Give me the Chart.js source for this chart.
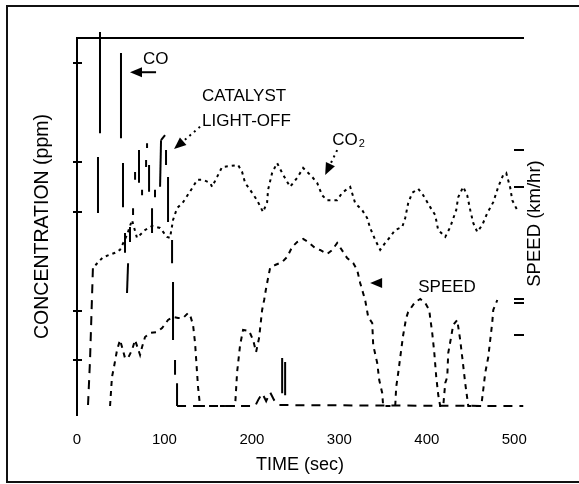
<!DOCTYPE html>
<html>
<head>
<meta charset="utf-8">
<script src="https://cdn.jsdelivr.net/npm/chart.js@4.4.1/dist/chart.umd.min.js"></script>
<style>
  html, body { margin: 0; padding: 0; background: #fff; }
  #wrap { position: relative; width: 579px; height: 484px; overflow: hidden; }
  #frame { position: absolute; left: 6px; top: 5px; width: 620px; height: 474px;
           border: 2px solid #111; border-right: none; pointer-events: none; }
  canvas { position: absolute; left: 0; top: 0; }
</style>
</head>
<body>
<div id="wrap">
  <canvas id="chartEmisiones" width="579" height="484"></canvas>
  <div id="frame"></div>
</div>
<script>
// CO: trazos verticales antes del light-off (null = corte del trazo), luego casi cero
const coTime = [12.6, 14.9, 18.3, null,
  26.3, 26.3, null, 24.0, 24.0, null, 50.3, 50.3, null, 52.6, 52.6, null, 54.9, 54.9, null,
  58.4, 57.2, null, 60.6, 60.6, null, 64.1, 64.1, null, 66.4, 66.4, null, 70.9, 70.9, null,
  74.4, 74.4, null, 80.1, 80.1, null, 79.0, 79.0, null, 82.4, 82.4, null, 85.8, 85.8, null,
  89.2, 89.2, null, 95.0, 96.1, 100.7, null, 101.8, 101.8, null, 104.1, 104.1, null,
  108.7, 108.7, null, 109.8, 109.8, null, 112.1, 112.1, null,
  114.4, 114.4, 203.7, 207.1, 211.7, 216.3, 220.8, 225.4, 230.0, 510.3, null,
  234.6, 234.6, null, 238.0, 238.0];
const coPpm = [0.10, 1.01, 2.92, null,
  7.62, 5.58, null, 5.10, 3.97, null, 7.2, 5.48, null, 4.98, 4.09, null, 3.57, 3.17, null,
  2.96, 2.36, null, 3.69, 3.39, null, 4.07, 3.93, null, 4.8, 4.64, null, 5.24, 4.58, null,
  4.44, 4.33, null, 5.38, 5.28, null, 5.04, 4.9, null, 4.94, 4.4, null, 4.07, 3.57, null,
  4.44, 4.29, null, 4.5, 5.44, 5.54, null, 5.24, 4.94, null, 4.7, 3.79, null,
  3.43, 2.96, null, 2.58, 1.41, null, 1.01, 0.71, null,
  0.54, 0.08, 0.08, 0.2, 0.34, 0.18, 0.36, 0.2, 0.1, 0.08, null,
  1.05, 0.34, null, 0.97, 0.3];

// CO2
const co2Time = [21, 29.7, 43.5, 49.2, 57.2, 62.9, 68.6, 77.8, 85.8, 95, 103, 106.4, 109.8, 114.4, 121.3,
  132.7, 137.3, 144.2, 152.2, 154.5, 160.2, 165.9, 175.1, 184.2, 188.8, 192.2, 197.9, 205.9, 212.8,
  217.4, 218.5, 223.1, 228.8, 234.6, 240.3, 243.7, 251.7, 258.6, 268.9, 274.6, 280.3, 286, 297.5,
  303.2, 312.4, 318.1, 326.1, 331.8, 335.2, 341, 346.7, 352.4, 358.1, 363.8, 371.9, 375.3, 378.7,
  383.3, 390.2, 395.9, 403.9, 409.6, 413, 421.1, 426.8, 433.6, 435.9, 441.6, 446.2, 449.7, 453.1,
  457.7, 463.4, 469.1, 476, 481.7, 487.4, 490.8, 495.4, 497.7, 503.4];
const co2Ppm = [2.92, 3.08, 3.17, 3.23, 3.53, 3.83, 3.47, 3.63, 3.71, 3.67, 3.49, 3.47, 3.83, 4.07, 4.19,
  4.5, 4.64, 4.64, 4.58, 4.5, 4.7, 4.9, 4.92, 4.94, 4.8, 4.58, 4.44, 4.23, 3.99,
  4.19, 4.44, 4.78, 4.98, 4.78, 4.6, 4.5, 4.68, 4.88, 4.7, 4.58, 4.33, 4.23, 4.23,
  4.38, 4.5, 4.17, 4.03, 3.87, 3.67, 3.43, 3.23, 3.37, 3.49, 3.63, 3.69, 3.87, 4.17,
  4.38, 4.46, 4.33, 4.09, 3.93, 3.63, 3.49, 3.69, 4.03, 4.29, 4.5, 4.33, 4.03, 3.77,
  3.59, 3.73, 3.97, 4.19, 4.5, 4.74, 4.78, 4.48, 4.23, 4.03];

// velocidad (km/hr)
const speedTime = [37.8, 40.0, 42.3, 45.8, 49.2, 51.5, 54.9, 58.4, 62.9, 66.4, 72.1, 74.4, 77.8, 83.5,
  91.5, 97.3, 104.1, 109.8, 115.6, 121.3, 127.0, 129.3, 132.7, 135.0, 138.4, 140.7, 180.8,
  183.1, 186.5, 189.9, 196.8, 201.4, 204.8, 208.2, 211.7, 214.0, 216.3, 218.5, 220.8, 226.6,
  234.6, 240.3, 246.0, 251.7, 258.6, 264.3, 272.3, 278.0, 286.0, 291.8, 297.5, 308.9, 315.8,
  320.4, 323.8, 329.5, 333.0, 337.6, 338.7, 343.3, 345.6, 349.0, 350.1, 363.9,
  365.0, 367.3, 370.7, 373.0, 376.4, 378.7, 386.7, 392.5, 398.2, 402.8, 403.9, 406.2, 408.5,
  410.8, 413.1, 415.3, 418.8, 421.1, 423.4, 424.5, 426.8, 430.2, 434.8, 438.2, 440.5, 443.9,
  446.2, 447.4, 462.3, 464.5, 466.8, 470.3, 472.5, 474.8, 476.0, 480.6];
const speedKmh = [0, 5.8, 7.8, 11.2, 13.2, 11.8, 9.6, 9.6, 11.2, 13.2, 10.2, 11.8, 13.8, 14.6,
  14.8, 15.6, 17.2, 17.8, 17.6, 17.6, 18.6, 18.2, 16.2, 12.6, 3.8, 0, 0,
  6.8, 12.2, 15.2, 15.0, 13.2, 10.8, 13.6, 19.2, 21.2, 23.6, 25.6, 27.6, 28.2,
  28.8, 29.8, 31.8, 32.8, 33.4, 32.8, 31.6, 31.2, 30.4, 31.2, 32.6, 29.6, 28.6,
  27.2, 24.6, 21.2, 17.8, 16.6, 12.2, 8.6, 5.2, 2.6, 0, 0,
  3.8, 6.6, 11.2, 14.2, 17.6, 18.8, 20.8, 21.4, 20.6, 19.2, 17.6, 14.6, 10.8,
  5.8, 2.2, 0, 0, 4.6, 5.8, 10.6, 12.8, 16.2, 17.2, 13.2, 9.8, 4.6,
  1.6, 0, 0, 3.2, 6.6, 9.8, 13.2, 16.6, 19.2, 21.2];

const timeTicks = [0, 100, 200, 300, 400, 500];
const concTicks = [1, 2, 4, 5, 7];
const speedTicks = [14.2, 20.6, 21.4, 43.8, 51.2];

const FONT = '"Liberation Sans", Arial, sans-serif';
const pares = (xs, ys) => xs.map((x, i) => ({ x: x, y: ys[i] }));

function flecha(ctx, x1, y1, x2, y2, dash, conLinea) {
  const ang = Math.atan2(y2 - y1, x2 - x1), L = 12, W = 5;
  const bx = x2 - L * Math.cos(ang), by = y2 - L * Math.sin(ang);
  if (conLinea) {
    ctx.setLineDash(dash);
    ctx.beginPath(); ctx.moveTo(x1, y1); ctx.lineTo(bx, by); ctx.stroke();
    ctx.setLineDash([]);
  }
  ctx.beginPath();
  ctx.moveTo(x2, y2);
  ctx.lineTo(bx + W * Math.sin(ang), by - W * Math.cos(ang));
  ctx.lineTo(bx - W * Math.sin(ang), by + W * Math.cos(ang));
  ctx.closePath(); ctx.fill();
}

const notas = {
  id: 'notas',
  afterDraw(chart) {
    const { ctx, chartArea, scales: { x, y, y1 } } = chart;
    const px = t => x.getPixelForValue(t), py = v => y.getPixelForValue(v);
    ctx.save();
    ctx.strokeStyle = '#000'; ctx.fillStyle = '#000'; ctx.lineWidth = 2;

    // marcas de los ejes
    concTicks.forEach(v => {
      const yy = Math.round(py(v));
      ctx.beginPath(); ctx.moveTo(chartArea.left - 4, yy); ctx.lineTo(chartArea.left + 5, yy); ctx.stroke();
    });
    speedTicks.forEach(v => {
      const yy = Math.round(y1.getPixelForValue(v));
      ctx.beginPath(); ctx.moveTo(chartArea.right - 9, yy); ctx.lineTo(chartArea.right + 1, yy); ctx.stroke();
    });

    ctx.font = '17px ' + FONT;
    ctx.textBaseline = 'middle';
    ctx.textAlign = 'left';

    // CO
    ctx.fillText('CO', px(75.5), py(7.08));
    flecha(ctx, px(90.4), py(6.81), px(60.6), py(6.81), [], true);

    // CATALYST LIGHT-OFF
    ctx.fillText('CATALYST', px(143), py(6.33));
    ctx.fillText('LIGHT-OFF', px(143), py(5.83));
    flecha(ctx, px(140.7), py(5.71), px(111), py(5.26), [2, 4], true);

    // CO2
    ctx.fillText('CO', px(291.8), py(5.44));
    const w = ctx.measureText('CO').width;
    ctx.font = '11px ' + FONT;
    ctx.fillText('2', px(291.8) + w + 1, py(5.44) + 4);
    flecha(ctx, px(297.5), py(5.24), px(283.8), py(4.74), [2, 4], true);

    // SPEED
    ctx.font = '17px ' + FONT;
    ctx.fillText('SPEED', px(390.2), py(2.48));
    flecha(ctx, px(351.3), py(2.56), px(335.2), py(2.56), [], false);

    // titulo eje derecho
    ctx.font = '18.5px ' + FONT;
    ctx.translate(535, (chartArea.top + chartArea.bottom) / 2 - 3);
    ctx.rotate(-Math.PI / 2);
    ctx.textAlign = 'center';
    ctx.fillText('SPEED (km/hr)', 0, 0);
    ctx.restore();
  }
};

const ctx = document.getElementById('chartEmisiones');

new Chart(ctx, {
  type: 'line',
  data: {
    datasets: [
      {
        label: 'CO',
        data: pares(coTime, coPpm),
        borderColor: '#000', borderWidth: 2, spanGaps: false,
        segment: {
          // trazos verticales llenos, el resto a rayas
          borderDash: c => Math.abs(c.p1.parsed.x - c.p0.parsed.x) < 1.5 ? [] : [9, 7]
        },
        pointRadius: 0, tension: 0, clip: false, yAxisID: 'y'
      },
      {
        label: 'CO2',
        data: pares(co2Time, co2Ppm),
        borderColor: '#000', borderWidth: 2, borderDash: [3, 4],
        pointRadius: 0, tension: 0, clip: false, yAxisID: 'y'
      },
      {
        label: 'SPEED',
        data: pares(speedTime, speedKmh),
        borderColor: '#000', borderWidth: 2, borderDash: [5, 5],
        pointRadius: 0, tension: 0, clip: false, yAxisID: 'y1'
      }
    ]
  },
  options: {
    responsive: false,
    animation: false,
    events: [],
    layout: { padding: 0 },
    plugins: { legend: { display: false }, tooltip: { enabled: false } },
    scales: {
      x: {
        type: 'linear', position: 'bottom', min: 0, max: 510,
        afterBuildTicks: s => { s.ticks = timeTicks.map(v => ({ value: v })); },
        afterFit: s => { s.height = 69; },
        ticks: { color: '#000', font: { family: FONT, size: 15 }, padding: 16, maxRotation: 0, autoSkip: false },
        grid: { display: false, drawTicks: false },
        border: { display: false },
        title: { display: true, text: 'TIME (sec)', color: '#000',
                 font: { family: FONT, size: 18 }, padding: { top: 0, bottom: 8 } }
      },
      xTop: {
        type: 'linear', axis: 'x', position: 'top', min: 0, max: 510,
        afterFit: s => { s.height = 38; },
        ticks: { display: false },
        grid: { display: false, drawTicks: false },
        border: { display: true, color: '#000', width: 2 }
      },
      y: {
        type: 'linear', position: 'left', min: -0.1, max: 7.5,
        afterFit: s => { s.width = 77; },
        ticks: { display: false },
        grid: { display: false, drawTicks: false },
        border: { display: true, color: '#000', width: 2 },
        title: { display: true, text: 'CONCENTRATION (ppm)', color: '#000',
                 font: { family: FONT, size: 19.5 }, padding: { top: 31, bottom: 0 } }
      },
      y1: {
        type: 'linear', position: 'right', min: -1.8, max: 73.6,
        afterFit: s => { s.width = 56; },
        ticks: { display: false },
        grid: { display: false, drawTicks: false },
        border: { display: false }
      }
    }
  },
  plugins: [notas]
});
</script>
</body>
</html>
